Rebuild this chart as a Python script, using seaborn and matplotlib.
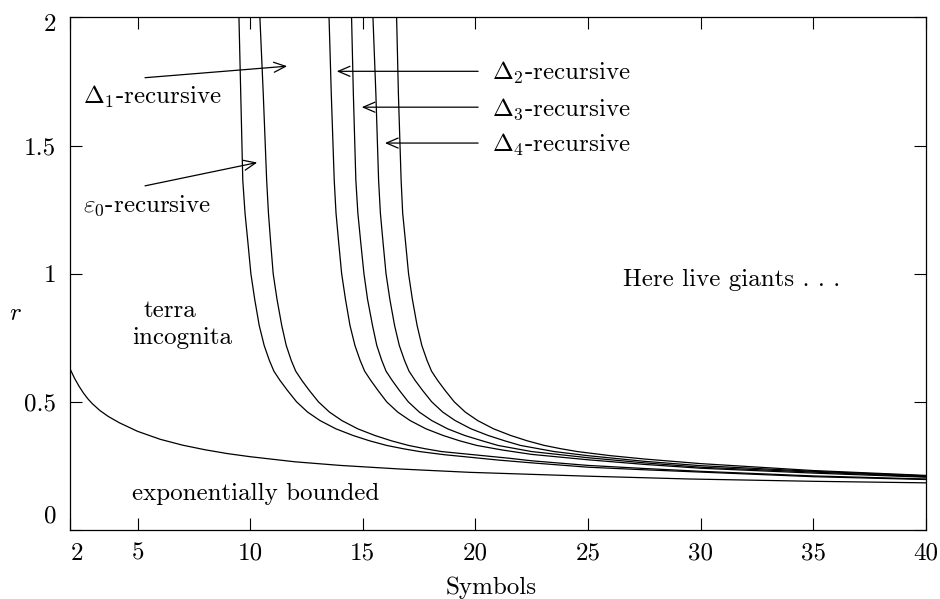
import matplotlib
matplotlib.use("Agg")
import matplotlib.pyplot as plt
import matplotlib.transforms as mtransforms
import seaborn as sns

# --- data ---
exp_sym = [2, 2.2, 2.4, 2.6, 2.8, 3.0, 3.33, 3.7, 4.2, 5, 6, 7, 8, 9, 10, 12, 14,
           16.65, 19.75, 25, 29.5, 35, 40]
exp_r = [0.629, 0.592, 0.561, 0.534, 0.511, 0.492, 0.466, 0.443, 0.418, 0.385, 0.354,
         0.331, 0.313, 0.298, 0.286, 0.266, 0.252, 0.238, 0.225, 0.21, 0.199, 0.19, 0.184]

# recursive curves, from left to right (A..F)
a_sym = [9.50, 9.58, 9.67, 9.77, 9.90, 10.03, 10.20, 10.40, 10.62, 10.85, 11.05, 11.32,
         11.65, 12.06, 12.55, 13.10, 13.8, 14.56, 15.3, 16.06, 16.8, 17.53, 18.6, 19.75,
         21, 22.5, 25, 27.5, 30, 35, 40]
a_r = [2.0, 1.7, 1.365, 1.236, 1.12, 1.0, 0.90, 0.798, 0.72, 0.662, 0.62, 0.584,
       0.545, 0.50, 0.46, 0.427, 0.395, 0.369, 0.348, 0.33, 0.317, 0.306, 0.294, 0.284,
       0.273, 0.262, 0.245, 0.235, 0.226, 0.208, 0.197]

b_sym = [10.43, 10.58, 10.73, 10.81, 10.91, 11.02, 11.19, 11.40, 11.60, 11.82, 12.02, 12.29,
         12.62, 13.03, 13.52, 14.07, 14.77, 15.53, 16.27, 17.03, 17.77, 18.5, 20, 21.5,
         22.5, 25, 27.5, 30, 35, 40]
b_r = [2.0, 1.7, 1.365, 1.236, 1.12, 1.0, 0.90, 0.798, 0.72, 0.662, 0.62, 0.584,
       0.545, 0.50, 0.46, 0.427, 0.395, 0.369, 0.348, 0.33, 0.317, 0.306, 0.293, 0.28,
       0.27, 0.252, 0.24, 0.229, 0.211, 0.199]

c_sym = [13.50, 13.60, 13.73, 13.81, 13.93, 14.06, 14.23, 14.43, 14.65, 14.88, 15.08, 15.35,
         15.67, 16.06, 16.55, 17.10, 17.8, 18.56, 19.3, 20.06, 21.2, 22.5, 25, 27.5,
         30, 35, 40]
c_r = [2.0, 1.7, 1.365, 1.236, 1.12, 1.0, 0.90, 0.798, 0.72, 0.662, 0.62, 0.584,
       0.545, 0.50, 0.46, 0.427, 0.395, 0.369, 0.348, 0.33, 0.312, 0.295, 0.274, 0.256,
       0.241, 0.222, 0.206]

d_sym = [14.50, 14.58, 14.69, 14.78, 14.91, 15.05, 15.21, 15.43, 15.62, 15.84, 16.03, 16.30,
         16.62, 17.02, 17.51, 18.06, 18.76, 19.52, 20.3, 21.0, 22.5, 25, 27.5, 30, 35, 40]
d_r = [2.0, 1.7, 1.365, 1.236, 1.12, 1.0, 0.90, 0.798, 0.72, 0.662, 0.62, 0.584,
       0.545, 0.50, 0.46, 0.427, 0.395, 0.369, 0.348, 0.33, 0.306, 0.282, 0.262, 0.245,
       0.226, 0.208]

e_sym = [15.45, 15.58, 15.70, 15.78, 15.90, 16.03, 16.20, 16.41, 16.62, 16.85, 17.05, 17.32,
         17.65, 18.06, 18.55, 19.10, 19.8, 20.56, 21.3, 22.0, 23.5, 25, 27.5, 30, 35, 40]
e_r = [2.0, 1.7, 1.365, 1.236, 1.12, 1.0, 0.90, 0.798, 0.72, 0.662, 0.62, 0.584,
       0.545, 0.50, 0.46, 0.427, 0.395, 0.369, 0.348, 0.33, 0.306, 0.29, 0.268, 0.251,
       0.229, 0.211]

f_sym = [16.50, 16.58, 16.70, 16.77, 16.90, 17.03, 17.20, 17.41, 17.62, 17.85, 18.05, 18.32,
         18.65, 19.06, 19.55, 20.10, 20.8, 21.56, 22.3, 23.06, 23.8, 24.53, 26, 27.5,
         30, 35, 40]
f_r = [2.0, 1.7, 1.365, 1.236, 1.12, 1.0, 0.90, 0.798, 0.72, 0.662, 0.62, 0.584,
       0.545, 0.50, 0.46, 0.427, 0.395, 0.369, 0.348, 0.33, 0.317, 0.306, 0.29, 0.277,
       0.259, 0.232, 0.213]

x_ticks = [2, 5, 10, 15, 20, 25, 30, 35, 40]
y_ticks = [0, 0.5, 1, 1.5, 2]
y_tick_labels = ["0", "0.5", "1", "1.5", "2"]

# --- style ---
sns.set_theme(style="ticks")
plt.rcParams["font.family"] = ["cmr10", "DejaVu Serif"]
plt.rcParams["mathtext.fontset"] = "cm"
plt.rcParams["axes.formatter.use_mathtext"] = True
plt.rcParams["axes.unicode_minus"] = False
plt.rcParams["text.color"] = "black"
plt.rcParams["axes.labelcolor"] = "black"

fig = plt.figure(figsize=(9.4, 5.99), dpi=100)
ax = fig.add_axes([0.0745, 0.1152, 0.9105, 0.8556])

curves = [(exp_sym, exp_r), (a_sym, a_r), (b_sym, b_r), (c_sym, c_r),
          (d_sym, d_r), (e_sym, e_r), (f_sym, f_r)]
for xs, ys in curves:
    sns.lineplot(x=xs, y=ys, sort=False, estimator=None, color="black",
                 linewidth=0.9, ax=ax)

ax.set_xlim(2, 40)
ax.set_ylim(0, 2)
ax.set_xticks(x_ticks)
ax.set_xticklabels([str(t) for t in x_ticks])
ax.set_yticks(y_ticks)
ax.set_yticklabels(y_tick_labels)
ax.tick_params(direction="in", length=8.6, width=0.8, labelsize=18,
               top=True, right=True, colors="black")
ax.tick_params(axis="x", pad=9)
ax.tick_params(axis="y", pad=10)
for side in ax.spines.values():
    side.set_visible(True)
    side.set_linewidth(0.9)
    side.set_color("black")

# nudge the corner labels like the original
def shift(label, dx, dy):
    label.set_transform(label.get_transform() +
                        mtransforms.ScaledTranslation(dx / 100, dy / 100, fig.dpi_scale_trans))

shift(ax.get_xticklabels()[0], 7, 0)
shift(ax.get_yticklabels()[0], 0, 16)
shift(ax.get_yticklabels()[-1], 0, -5)

ax.set_xlabel("Symbols", fontsize=18, va="center", color="black")
ax.xaxis.set_label_coords(0.492, -0.113)
ax.set_ylabel(r"$r$", fontsize=18, rotation=0, va="center", ha="center", color="black")
ax.yaxis.set_label_coords(-0.064, 0.4225)

# --- annotations ---
txt = dict(fontsize=18, color="black", va="baseline", ha="left")
ax.text(2.58, 1.662, r"$\Delta_1$-recursive", **txt)
ax.text(2.58, 1.241, r"$\varepsilon_0$-recursive", **txt)
ax.text(20.72, 1.758, r"$\Delta_2$-recursive", **txt)
ax.text(20.72, 1.616, r"$\Delta_3$-recursive", **txt)
ax.text(20.72, 1.476, r"$\Delta_4$-recursive", **txt)
ax.text(26.53, 0.951, "Here live giants . . .", **txt)
ax.text(5.28, 0.831, "terra", **txt)
ax.text(4.74, 0.727, "incognita", **txt)
ax.text(4.74, 0.117, "exponentially bounded", **txt)

arrow = dict(arrowstyle="->,head_length=0.7,head_width=0.3", lw=0.9,
             color="black", shrinkA=0, shrinkB=0)
ax.annotate("", xy=(11.64, 1.81), xytext=(5.33, 1.765), arrowprops=arrow)
ax.annotate("", xy=(10.31, 1.434), xytext=(5.33, 1.343), arrowprops=arrow)
ax.annotate("", xy=(13.84, 1.79), xytext=(20.12, 1.79), arrowprops=arrow)
ax.annotate("", xy=(14.95, 1.65), xytext=(20.12, 1.65), arrowprops=arrow)
ax.annotate("", xy=(15.98, 1.51), xytext=(20.12, 1.51), arrowprops=arrow)

fig.savefig("out.png", dpi=100, facecolor="white")
